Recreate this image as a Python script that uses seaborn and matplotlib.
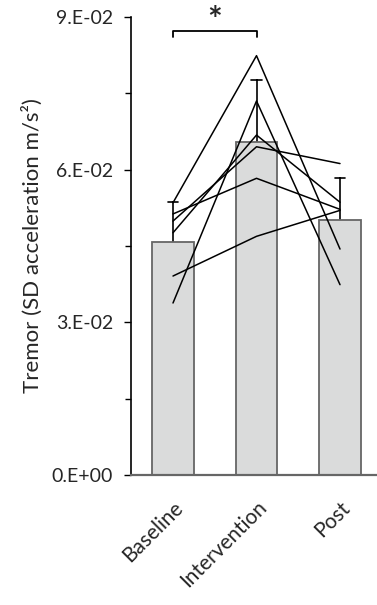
import matplotlib
matplotlib.use("Agg")
import matplotlib.pyplot as plt
from matplotlib.ticker import FixedLocator, FuncFormatter
import seaborn as sns
import pandas as pd

# tremor per subject (SD acceleration, m/s^2)
phases = ["Baseline", "Intervention", "Post"]
subj_a = [0.0535, 0.0824, 0.0444]
subj_b = [0.0338, 0.0735, 0.0374]
subj_c = [0.0391, 0.0469, 0.0520]
subj_d = [0.0476, 0.0668, 0.0536]
subj_e = [0.0499, 0.0645, 0.0612]
subj_f = [0.0513, 0.0583, 0.0522]
subjects = {"A": subj_a, "B": subj_b, "C": subj_c, "D": subj_d, "E": subj_e, "F": subj_f}

yticks_major = [0.0, 0.03, 0.06, 0.09]
yticks_minor = [0.015, 0.045, 0.075]

rows = []
for s, vals in subjects.items():
    for p, v in zip(phases, vals):
        rows.append({"subject": s, "phase": p, "tremor": v})
df = pd.DataFrame(rows)
df["phase"] = pd.Categorical(df["phase"], categories=phases, ordered=True)
df["pos"] = df["phase"].cat.codes

sns.set_style("ticks")
plt.rcParams["font.family"] = ["Lato", "DejaVu Sans"]

fig = plt.figure(figsize=(3.77, 6.05), dpi=100)
ax = fig.add_axes([131 / 377, 1 - 475 / 605, 246 / 377, 458 / 605])

sns.barplot(data=df, x="phase", y="tremor", order=phases, errorbar="sd",
            width=0.5, color="#dadbdb", edgecolor="#666666", linewidth=1.3,
            capsize=0.13, err_kws={"color": "black", "linewidth": 1.2, "zorder": 0.5},
            ax=ax)
for bar in ax.patches:
    bar.set_facecolor("#dadbdb")

sns.lineplot(data=df, x="pos", y="tremor", units="subject", estimator=None,
             color="black", linewidth=1.1, ax=ax, legend=False)

ax.set_xlim(-0.503, 2.443)
ax.set_ylim(0, 0.09)
ax.set_xticks(range(len(phases)))
ax.set_xticklabels(phases, rotation=45, ha="right", rotation_mode="anchor", fontsize=15)
ax.yaxis.set_major_locator(FixedLocator(yticks_major))
ax.yaxis.set_minor_locator(FixedLocator(yticks_minor))
ax.yaxis.set_major_formatter(FuncFormatter(lambda v, pos: "{:#.0E}".format(v)))
ax.tick_params(axis="y", which="major", length=5, width=1, pad=8, labelsize=14, color="black")
ax.tick_params(axis="y", which="minor", length=4, width=1, color="black")
ax.tick_params(axis="x", length=0, pad=16)
ax.set_xlabel("")
ax.set_ylabel("Tremor (SD acceleration m/s²)", fontsize=16, labelpad=6)

sns.despine(ax=ax)
ax.spines["left"].set_color("black")
ax.spines["left"].set_linewidth(1.2)
ax.spines["bottom"].set_color("#666666")
ax.spines["bottom"].set_linewidth(1.6)

# significance bracket Baseline vs Intervention
ax.plot([0, 0, 1, 1], [0.0861, 0.0873, 0.0873, 0.0861], color="black", lw=1.3,
        clip_on=False)
ax.text(0.5, 0.0893, "*", ha="center", va="center", fontsize=25, fontweight="bold",
        clip_on=False)

fig.savefig("out.png", dpi=100)
